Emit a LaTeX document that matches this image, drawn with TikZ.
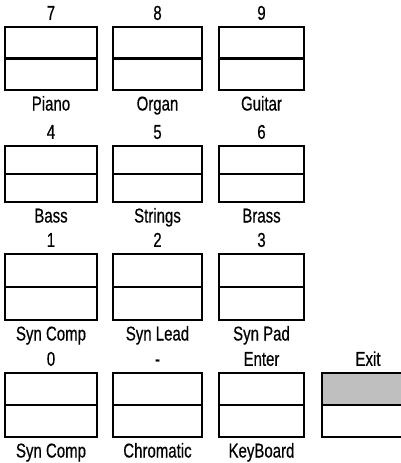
\documentclass[tikz,border=0pt]{standalone}
\usepackage{fontspec}
\setmainfont{Liberation Sans}[FakeStretch=0.75, FakeBold=0.5]
\usetikzlibrary{positioning}
\tikzset{keybox/.style={draw, line width=2.7pt, inner sep=0pt, outer sep=0pt,
    path picture={\draw[line width=2.7pt] (path picture bounding box.west) -- (path picture bounding box.east);}},
  exitbox/.style={keybox,
    path picture={\fill[gray!50] (path picture bounding box.north west) rectangle (path picture bounding box.east);
      \draw[line width=2.7pt] (path picture bounding box.west) -- (path picture bounding box.east);}},
  keynum/.style={inner sep=0pt, text height=14.3pt, text depth=0pt},
  keyname/.style={inner sep=0pt, text height=14.3pt, text depth=4pt}}

\begin{document}
\begin{tikzpicture}[x=1pt, y=-1pt, font=\fontsize{20}{24}\selectfont, node distance=6pt]
\useasboundingbox (0,0) rectangle (401,463);
% row 7 8 9
\node[keybox, minimum width=92pt, minimum height=63pt] (k7) at (51,58.5) {};
\node[keybox, minimum width=89pt, minimum height=63pt] (k8) at (157.5,58.5) {};
\node[keybox, minimum width=85pt, minimum height=63pt] (k9) at (261.5,58.5) {};
% row 4 5 6
\node[keybox, minimum width=92pt, minimum height=56pt] (k4) at (51,174) {};
\node[keybox, minimum width=89pt, minimum height=56pt] (k5) at (157.5,174) {};
\node[keybox, minimum width=85pt, minimum height=56pt] (k6) at (261.5,174) {};
% row 1 2 3
\node[keybox, minimum width=92pt, minimum height=66pt] (k1) at (51,287) {};
\node[keybox, minimum width=89pt, minimum height=66pt] (k2) at (157.5,287) {};
\node[keybox, minimum width=85pt, minimum height=66pt] (k3) at (261.5,287) {};
% row 0 - Enter Exit
\node[keybox, minimum width=92pt, minimum height=64pt] (k0) at (51,405) {};
\node[keybox, minimum width=89pt, minimum height=64pt] (kminus) at (157.5,405) {};
\node[keybox, minimum width=85pt, minimum height=64pt] (kenter) at (261.5,405) {};
\node[exitbox, minimum width=92pt, minimum height=64pt] (kexit) at (368,405) {};

\node[keynum, above=7pt of k7] (n7) {7};
\node[keynum, above=7pt of k8] (n8) {8};
\node[keynum, above=7pt of k9] (n9) {9};
\node[keynum, above=7pt of k4] (n4) {4};
\node[keynum, above=7pt of k5] (n5) {5};
\node[keynum, above=7pt of k6] (n6) {6};
\node[keynum, above=7pt of k1] (n1) {1};
\node[keynum, above=7pt of k2] (n2) {2};
\node[keynum, above=7pt of k3] (n3) {3};
\node[keynum, above=7pt of k0] (n0) {0};
\node[keynum, above=7pt of kminus] (nminus) {-};
\node[keynum, above=7pt of kenter] (nenter) {Enter};
\node[keynum, above=7pt of kexit] (nexit) {Exit};

\node[keyname, below=of k7] (t7) {Piano};
\node[keyname, below=of k8] (t8) {Organ};
\node[keyname, below=of k9] (t9) {Guitar};
\node[keyname, below=of k4] (t4) {Bass};
\node[keyname, below=of k5] (t5) {Strings};
\node[keyname, below=of k6] (t6) {Brass};
\node[keyname, below=of k1] (t1) {Syn Comp};
\node[keyname, below=of k2] (t2) {Syn Lead};
\node[keyname, below=of k3] (t3) {Syn Pad};
\node[keyname, below=of k0] (t0) {Syn Comp};
\node[keyname, below=of kminus] (tminus) {Chromatic};
\node[keyname, below=of kenter] (tenter) {KeyBoard};
\end{tikzpicture}
\end{document}
